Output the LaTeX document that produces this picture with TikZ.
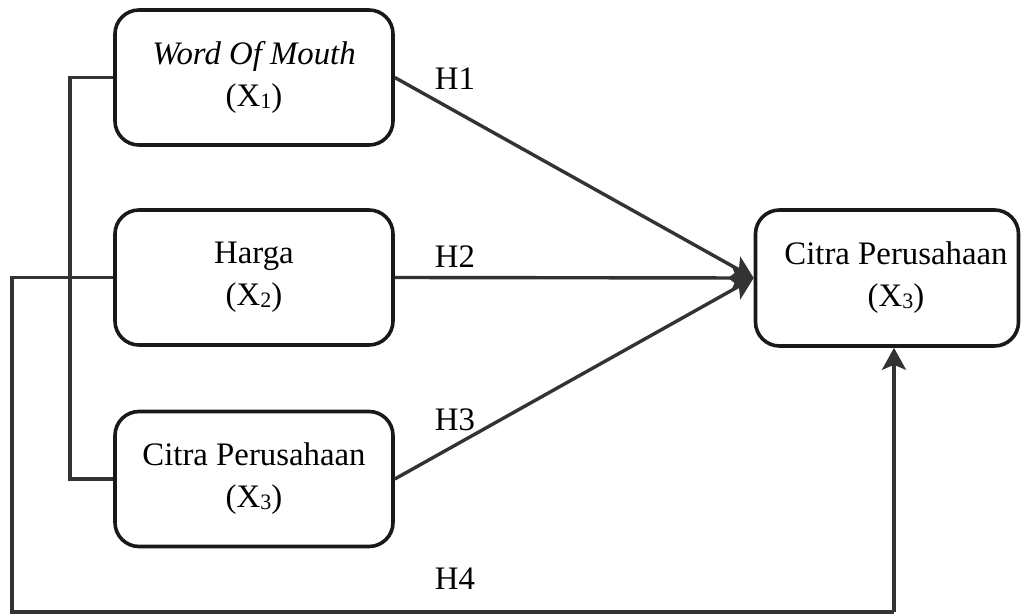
\documentclass[tikz,border=0pt]{standalone}
\usepackage{fontspec}
\setmainfont{Liberation Serif}
\usetikzlibrary{arrows.meta}
\newcommand\varidx[1]{\raisebox{-0.1ex}{\fontsize{11}{11}\selectfont #1}}

\begin{document}
\begin{tikzpicture}[
      % 以像素为单位（1 px = 0.5 pt），y 轴向下
      x=0.5pt,
      y=-0.5pt,
      >={Stealth[length=11pt,width=12pt,inset=2.5pt]},
      line join=miter,
      box/.style={draw=black!90, line width=1.8pt, rounded corners=12pt,
        minimum width=139pt, minimum height=67.5pt, inner sep=0pt,
        align=center, font=\fontsize{16.4}{21}\selectfont},
      link/.style={draw=black!80, line width=1.7pt},
      tag/.style={font=\fontsize{16.4}{19}\selectfont},
    ]
    
    \useasboundingbox (0,0) rectangle (1022,615);
    
    % 左侧三个自变量
    \node[box] (wom)   at (254,77.5) {\textit{Word Of Mouth}\\(X\varidx{1})};
    \node[box] (harga) at (254,277.5) {Harga\\(X\varidx{2})};
    \node[box] (citra) at (254,479) {Citra Perusahaan\\(X\varidx{3})};
    
    % 右侧因变量
    \node[box,minimum width=131.5pt,minimum height=68pt] (target) at (887,278)
      {\hspace*{9pt}Citra Perusahaan\\\hspace*{9pt}(X\varidx{3})};
    
    % 折线的拐点
    \coordinate (busT)  at (70,77.5);
    \coordinate (busB)  at (70,479);
    \coordinate (loopT) at (12,277.5);
    \coordinate (loopB) at (12,612);
    \coordinate (loopR) at (894,612);
    
    % 左侧竖直连线
    \draw[link] (wom.west) -- (busT) -- (busB) -- (citra.west);
    
    % H1、H2、H3
    \draw[link,->] (wom.east) -- (target.west);
    \draw[link,->] (harga.east) -- (target.west);
    \draw[link,->] (citra.east) -- (target.west);
    
    % H4：从 Harga 绕到下方
    \draw[link] (harga.west) -- (loopT) -- (loopB) -- (loopR);
    \draw[link,->] (loopR) -- (loopR |- target.south);
    
    % 假设标注
    \node[tag] (h1) at (455,79) {H1};
    \node[tag] (h2) at (455,257) {H2};
    \node[tag] (h3) at (455,420) {H3};
    \node[tag] (h4) at (455,579) {H4};
    
    \end{tikzpicture}
\end{document}
